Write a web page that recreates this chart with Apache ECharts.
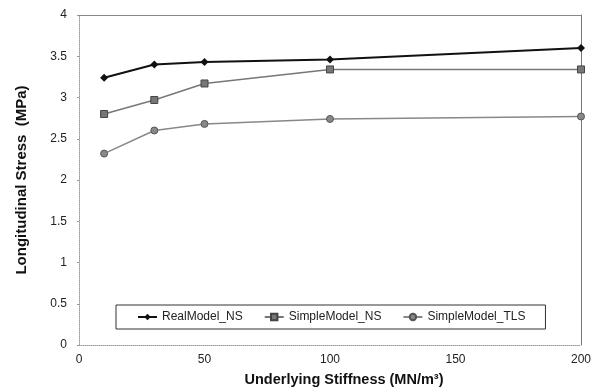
<!DOCTYPE html>
<html><head><meta charset="utf-8">
<script src="https://cdn.jsdelivr.net/npm/echarts@6/dist/echarts.min.js"></script>
<style>html,body{margin:0;padding:0;background:#fff}#c{width:599px;height:392px}</style>
</head><body><div id="c"></div>
<script>
var stiffness = [10, 30, 50, 100, 200];
var realModelNS = [3.24, 3.40, 3.43, 3.46, 3.60];
var simpleModelNS = [2.80, 2.97, 3.17, 3.34, 3.34];
var simpleModelTLS = [2.32, 2.60, 2.68, 2.74, 2.77];
var seriesNames = ['RealModel_NS', 'SimpleModel_NS', 'SimpleModel_TLS'];
var xTitle = 'Underlying Stiffness (MN/m³)';
var yTitle = 'Longitudinal Stress  (MPa)';

function pairs(ys){ return stiffness.map(function(x,i){ return [x, ys[i]]; }); }
var font = 'Liberation Sans, Arial, sans-serif';
var chart = echarts.init(document.getElementById('c'));
chart.setOption({
  animation: false,
  grid: {left: 79, right: 18, top: 15, bottom: 47},
  legend: {
    data: seriesNames, left: 116, top: 305, width: 431, height: 26,
    padding: [6, 20, 6, 21], itemGap: 21, itemWidth: 19, itemHeight: 8,
    borderColor: '#333', borderWidth: 1, backgroundColor: '#fff',
    textStyle: {fontFamily: font, fontSize: 12, color: '#222'}
  },
  xAxis: [{
    type: 'value', min: 0, max: 200, interval: 50,
    name: xTitle, nameLocation: 'middle', nameGap: 27,
    nameTextStyle: {fontFamily: font, fontSize: 14.5, fontWeight: 'bold', color: '#111', padding: [0, 0, 0, 28]},
    axisLine: {show: true, lineStyle: {color: '#999', type: 'dotted'}},
    axisTick: {show: false}, splitLine: {show: false},
    axisLabel: {fontFamily: font, fontSize: 12, color: '#222', margin: 9}
  }, {
    type: 'value', min: 0, max: 200, position: 'top',
    axisLine: {show: true, onZero: false, lineStyle: {color: '#888'}},
    axisTick: {show: false}, axisLabel: {show: false}, splitLine: {show: false}
  }],
  yAxis: [{
    type: 'value', min: 0, max: 4, interval: 0.5,
    name: yTitle, nameLocation: 'middle', nameGap: 50,
    nameTextStyle: {fontFamily: font, fontSize: 15, fontWeight: 'bold', color: '#111'},
    axisLine: {show: true, lineStyle: {color: '#999', type: 'dotted'}},
    axisTick: {show: true, length: 2, lineStyle: {color: '#999'}},
    splitLine: {show: false},
    axisLabel: {fontFamily: font, fontSize: 12, color: '#222', margin: 12}
  }, {
    type: 'value', min: 0, max: 4, position: 'right',
    axisLine: {show: true, onZero: false, lineStyle: {color: '#777'}},
    axisTick: {show: false}, axisLabel: {show: false}, splitLine: {show: false}
  }],
  series: [{
    name: seriesNames[0], type: 'line', data: pairs(realModelNS),
    symbol: 'diamond', symbolSize: 8,
    lineStyle: {color: '#111', width: 2}, itemStyle: {color: '#111'}
  }, {
    name: seriesNames[1], type: 'line', data: pairs(simpleModelNS),
    symbol: 'rect', symbolSize: 7,
    lineStyle: {color: '#777', width: 1.5}, itemStyle: {color: '#777', borderColor: '#444', borderWidth: 1}
  }, {
    name: seriesNames[2], type: 'line', data: pairs(simpleModelTLS),
    symbol: 'circle', symbolSize: 7,
    lineStyle: {color: '#888', width: 1.5}, itemStyle: {color: '#888', borderColor: '#555', borderWidth: 1}
  }]
});
</script></body></html>
